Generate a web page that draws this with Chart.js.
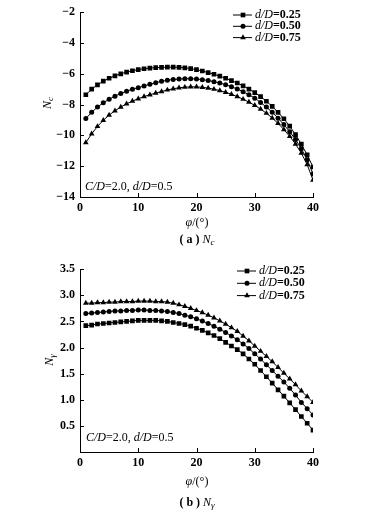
<!DOCTYPE html>
<html lang="en">
<head>
  <meta charset="UTF-8" />
  <title>Nc and Ngamma vs phi</title>
  <script src="https://cdn.jsdelivr.net/npm/chart.js"></script>
  <style>
    * { margin: 0; padding: 0; box-sizing: border-box; }
    body { background: #fff; width: 392px; height: 514px; overflow: hidden; }
    .panel { position: absolute; left: 0; width: 392px; height: 257px; }
    #panelA { top: 0; }
    #panelB { top: 257px; }
  </style>
</head>
<body>
  <div class="panel" id="panelA"><canvas id="chartA" width="392" height="257"></canvas></div>
  <div class="panel" id="panelB"><canvas id="chartB" width="392" height="257"></canvas></div>

  <script>
    // friction angle, degrees
    const phi = [1, 2, 3, 4, 5, 6, 7, 8, 9, 10, 11, 12, 13, 14, 15, 16, 17, 18, 19, 20,
                 21, 22, 23, 24, 25, 26, 27, 28, 29, 30, 31, 32, 33, 34, 35, 36, 37, 38, 39, 40];
    const seriesLabels = ['0.25', '0.50', '0.75'];
    const markerStyles = ['rect', 'circle', 'triangle'];

    // (a) Nc
    const ncD025 = [-7.36, -7.00, -6.72, -6.48, -6.29, -6.13, -6.00, -5.89, -5.80, -5.73,
                    -5.67, -5.63, -5.60, -5.58, -5.57, -5.57, -5.58, -5.61, -5.66, -5.73,
                    -5.82, -5.92, -6.03, -6.15, -6.29, -6.44, -6.60, -6.78, -6.99, -7.22,
                    -7.48, -7.78, -8.12, -8.50, -8.92, -9.40, -9.95, -10.57, -11.27, -12.05];
    const ncD050 = [-8.91, -8.50, -8.16, -7.88, -7.65, -7.45, -7.28, -7.13, -7.00, -6.90,
                    -6.79, -6.68, -6.58, -6.49, -6.42, -6.37, -6.34, -6.32, -6.32, -6.34,
                    -6.38, -6.44, -6.51, -6.60, -6.71, -6.84, -6.99, -7.16, -7.36, -7.58,
                    -7.86, -8.16, -8.50, -8.88, -9.30, -9.76, -10.27, -10.86, -11.58, -12.50];
    const ncD075 = [-10.47, -9.90, -9.42, -9.02, -8.68, -8.40, -8.16, -7.95, -7.77, -7.62,
                    -7.48, -7.36, -7.25, -7.15, -7.05, -6.97, -6.91, -6.87, -6.85, -6.85,
                    -6.88, -6.93, -7.00, -7.09, -7.20, -7.33, -7.48, -7.65, -7.84, -8.05,
                    -8.29, -8.56, -8.87, -9.22, -9.62, -10.06, -10.56, -11.15, -11.90, -12.90];

    // (b) Ngamma
    const ngD025 = [2.42, 2.43, 2.45, 2.46, 2.47, 2.48, 2.49, 2.50, 2.51, 2.52,
                    2.52, 2.52, 2.52, 2.51, 2.50, 2.48, 2.46, 2.44, 2.41, 2.37,
                    2.33, 2.28, 2.23, 2.17, 2.10, 2.03, 1.96, 1.88, 1.78, 1.68,
                    1.56, 1.44, 1.32, 1.19, 1.07, 0.94, 0.81, 0.68, 0.55, 0.42];
    const ngD050 = [2.65, 2.66, 2.67, 2.68, 2.69, 2.70, 2.70, 2.71, 2.71, 2.72,
                    2.72, 2.71, 2.71, 2.70, 2.69, 2.67, 2.65, 2.62, 2.59, 2.55,
                    2.51, 2.46, 2.41, 2.35, 2.29, 2.22, 2.15, 2.07, 1.98, 1.88,
                    1.78, 1.67, 1.56, 1.45, 1.34, 1.22, 1.09, 0.95, 0.83, 0.71];
    const ngD075 = [2.85, 2.85, 2.86, 2.86, 2.87, 2.87, 2.88, 2.88, 2.88, 2.89,
                    2.89, 2.89, 2.88, 2.88, 2.87, 2.85, 2.82, 2.79, 2.75, 2.71,
                    2.67, 2.62, 2.57, 2.51, 2.45, 2.38, 2.31, 2.22, 2.13, 2.03,
                    1.93, 1.83, 1.73, 1.62, 1.51, 1.40, 1.29, 1.17, 1.06, 0.95];

    const phiTicks = [0, 10, 20, 30, 40];
    const ncTicks = [-14, -12, -10, -8, -6, -4, -2];
    const ngTicks = [0, 0.5, 1.0, 1.5, 2.0, 2.5, 3.0, 3.5];

    const SERIF = "'Liberation Serif', 'Times New Roman', serif";
    const fIt = "italic 12px " + SERIF;
    const fBold = "bold 12px " + SERIF;
    const fReg = "12px " + SERIF;

    // draw a run of text pieces with different fonts; piece = [text, font, dy]
    function drawRich(ctx, parts, x, y, align) {
      ctx.save();
      ctx.textBaseline = 'middle';
      ctx.textAlign = 'left';
      let total = 0;
      parts.forEach(p => { ctx.font = p[1]; total += ctx.measureText(p[0]).width; });
      let cx = align === 'center' ? x - total / 2 : x;
      parts.forEach(p => {
        ctx.font = p[1];
        ctx.fillText(p[0], cx, y + (p[2] || 0));
        cx += ctx.measureText(p[0]).width;
      });
      ctx.restore();
    }

    const decorPlugin = {
      id: 'decor',
      afterDraw(chart) {
        const ctx = chart.ctx;
        const o = chart.options.plugins.decor;
        const xs = chart.scales.x, ys = chart.scales.y;
        const area = chart.chartArea;
        ctx.save();
        ctx.strokeStyle = '#000';
        ctx.fillStyle = '#000';
        ctx.lineWidth = 1;
        // inward tick marks
        ctx.beginPath();
        phiTicks.forEach(v => {
          const px = Math.round(xs.getPixelForValue(v)) + 0.5;
          ctx.moveTo(px, area.bottom);
          ctx.lineTo(px, area.bottom - 4);
        });
        o.yTicks.forEach(v => {
          const py = Math.round(ys.getPixelForValue(v)) + 0.5;
          ctx.moveTo(area.left, py);
          ctx.lineTo(area.left + 4, py);
        });
        ctx.stroke();

        // legend
        chart.data.datasets.forEach((ds, i) => {
          const ly = o.legendY + i * o.legendGap;
          ctx.beginPath();
          ctx.moveTo(o.legendX, ly);
          ctx.lineTo(o.legendX + 19, ly);
          ctx.stroke();
          Chart.helpers.drawPoint(ctx, { pointStyle: ds.pointStyle, radius: ds.pointRadius, rotation: 0, borderWidth: 0 },
            o.legendX + 10, ly);
          drawRich(ctx, [['d/D', fIt], ['=' + seriesLabels[i], fBold]], o.legendX + 22, ly);
        });

        // parameter note
        drawRich(ctx, [['C/D', fIt], ['=2.0, ', fReg], ['d/D', fIt], ['=0.5', fReg]], o.noteX, o.noteY);

        // axis titles
        drawRich(ctx, [['φ', fIt], ['/(°)', fReg]], o.cx, o.xTitleY, 'center');
        ctx.save();
        ctx.translate(o.yTitleX, o.yTitleY);
        ctx.rotate(-Math.PI / 2);
        drawRich(ctx, [['N', "italic 12px " + SERIF], [o.sub, "italic 9px " + SERIF, 3]], 0, 0, 'center');
        ctx.restore();

        // caption
        drawRich(ctx, [['( ' + o.tag + ' ) ', fBold], ['N', "italic 12px " + SERIF], [o.sub, "italic 9px " + SERIF, 3]],
          o.cx, o.captionY, 'center');
        ctx.restore();
      }
    };

    function makeChart(id, series, yMin, yMax, yTicks, yFmt, xAxisH, padTop, decor) {
      const datasets = series.map((vals, i) => ({
        label: 'd/D=' + seriesLabels[i],
        data: phi.map((p, k) => ({ x: p, y: vals[k] })),
        borderColor: '#000',
        backgroundColor: '#000',
        borderWidth: 1,
        pointStyle: markerStyles[i],
        pointRadius: [3.3, 2.5, 3.3][i],
        pointBorderWidth: 0,
        tension: 0,
        fill: false
      }));
      return new Chart(document.getElementById(id), {
        type: 'line',
        data: { datasets },
        plugins: [decorPlugin],
        options: {
          responsive: false,
          animation: false,
          layout: { padding: { top: padTop, right: 79, left: 0, bottom: 0 } },
          plugins: {
            legend: { display: false },
            tooltip: { enabled: false },
            decor: Object.assign({ yTicks: yTicks }, decor)
          },
          scales: {
            x: {
              type: 'linear',
              min: 0, max: 40,
              afterBuildTicks: s => { s.ticks = phiTicks.map(v => ({ value: v })); },
              afterFit: s => { s.height = xAxisH; },
              grid: { display: false, drawTicks: false },
              border: { display: true, color: '#000', width: 1 },
              ticks: { color: '#000', padding: 4, font: { family: SERIF, size: 12, weight: 'bold' } }
            },
            y: {
              type: 'linear',
              min: yMin, max: yMax,
              afterBuildTicks: s => { s.ticks = yTicks.map(v => ({ value: v })); },
              afterFit: s => { s.width = 80; },
              grid: { display: false, drawTicks: false },
              border: { display: true, color: '#000', width: 1 },
              ticks: { color: '#000', padding: 5, font: { family: SERIF, size: 12, weight: 'bold' }, callback: yFmt }
            }
          }
        }
      });
    }

    makeChart('chartA', [ncD025, ncD050, ncD075], -14, -2, ncTicks,
      v => String(v).replace('-', '\u2212'), 60, 9,
      { legendX: 233, legendY: 15, legendGap: 11.3, noteX: 85, noteY: 187, cx: 197, xTitleY: 223,
        yTitleX: 48, yTitleY: 103, captionY: 240, tag: 'a', sub: 'c' });

    makeChart('chartB', [ngD025, ngD050, ngD075], 0, 3.5, ngTicks,
      v => (v === 0 ? '' : v.toFixed(1)), 62, 8,
      { legendX: 237, legendY: 14, legendGap: 12.3, noteX: 86, noteY: 181, cx: 197, xTitleY: 225,
        yTitleX: 50, yTitleY: 103, captionY: 246, tag: 'b', sub: 'γ' });
  </script>
</body>
</html>
